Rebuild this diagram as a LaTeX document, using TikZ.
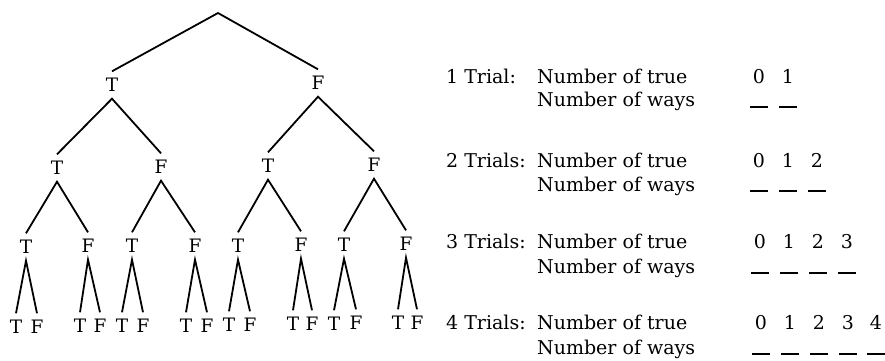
\documentclass[tikz,border=0pt]{standalone}
\usepackage{fontspec}
\setmainfont{DejaVu Serif}
\usetikzlibrary{positioning}

\begin{document}
\begin{tikzpicture}[
  x=1pt, y=-1pt,
  leaf/.style={inner sep=0pt, minimum height=27pt, font=\fontsize{18.5}{18.5}\selectfont},
  branch/.style={line width=1.8pt, line join=miter},
  rowtext/.style={anchor=base west, inner sep=0pt, font=\fontsize{19}{21}\selectfont},
  count/.style={anchor=base, inner sep=0pt, font=\fontsize{19}{21}\selectfont},
  blank/.style={line width=1.6pt}
]
  \useasboundingbox (0,0) rectangle (885,360);

  % Tree of outcomes
  \coordinate (root) at (218,13);
  \node[leaf] (t) at (112,85) {T};
  \node[leaf] (f) at (318,83) {F};

  \node[leaf] (tt) at (57,168)  {T};
  \node[leaf] (tf) at (161,167) {F};
  \node[leaf] (ft) at (268,166) {T};
  \node[leaf] (ff) at (374,165) {F};

  \node[leaf] (ttt) at (26,247)  {T};
  \node[leaf] (ttf) at (88,246)  {F};
  \node[leaf] (tft) at (132,246) {T};
  \node[leaf] (tff) at (195,246) {F};
  \node[leaf] (ftt) at (238,246) {T};
  \node[leaf] (ftf) at (301,245) {F};
  \node[leaf] (fft) at (344,245) {T};
  \node[leaf] (fff) at (406,244) {F};

  \node[leaf] (tttt) at (16,327)  {T}; \node[leaf] (tttf) at (37,327)  {F};
  \node[leaf] (ttft) at (80,326)  {T}; \node[leaf] (ttff) at (100,326) {F};
  \node[leaf] (tftt) at (122,326) {T}; \node[leaf] (tftf) at (143,326) {F};
  \node[leaf] (tfft) at (186,326) {T}; \node[leaf] (tfff) at (207,326) {F};
  \node[leaf] (fttt) at (229,325) {T}; \node[leaf] (fttf) at (250,325) {F};
  \node[leaf] (ftft) at (293,324) {T}; \node[leaf] (ftff) at (312,324) {F};
  \node[leaf] (fftt) at (334,324) {T}; \node[leaf] (fftf) at (356,323) {F};
  \node[leaf] (ffft) at (398,323) {T}; \node[leaf] (ffff) at (417,323) {F};

  % Branches
  \draw[branch] (t.north) -- (root) -- (f.north);
  \draw[branch] (tt.north) -- (t.south) -- (tf.north);
  \draw[branch] (ft.north) -- (f.south) -- (ff.north);
  \draw[branch] (ttt.north) -- (tt.south) -- (ttf.north);
  \draw[branch] (tft.north) -- (tf.south) -- (tff.north);
  \draw[branch] (ftt.north) -- (ft.south) -- (ftf.north);
  \draw[branch] (fft.north) -- (ff.south) -- (fff.north);
  \draw[branch] (tttt.north) -- (ttt.south) -- (tttf.north);
  \draw[branch] (ttft.north) -- (ttf.south) -- (ttff.north);
  \draw[branch] (tftt.north) -- (tft.south) -- (tftf.north);
  \draw[branch] (tfft.north) -- (tff.south) -- (tfff.north);
  \draw[branch] (fttt.north) -- (ftt.south) -- (fttf.north);
  \draw[branch] (ftft.north) -- (ftf.south) -- (ftff.north);
  \draw[branch] (fftt.north) -- (fft.south) -- (fftf.north);
  \draw[branch] (ffft.north) -- (fff.south) -- (ffff.north);

  % Trials 1
  \node[rowtext] (trial1) at (446,83) {1 Trial:};
  \node[rowtext] (true1) at (537,83) {Number of true};
  \node[rowtext] (ways1) at (537,106) {Number of ways};
  \node[count] (c10) at (759,83) {0};
  \node[count] (c11) at (788,83) {1};
  \draw[blank] ([shift={(-9,24)}]c10.base) -- ++(18,0);
  \draw[blank] ([shift={(-9,24)}]c11.base) -- ++(18,0);

  % Trials 2
  \node[rowtext] (trial2) at (446,167) {2 Trials:};
  \node[rowtext] (true2) at (537,167) {Number of true};
  \node[rowtext] (ways2) at (537,191) {Number of ways};
  \node[count] (c20) at (759,167) {0};
  \node[count] (c21) at (788,167) {1};
  \node[count] (c22) at (817,167) {2};
  \draw[blank] ([shift={(-9,24)}]c20.base) -- ++(18,0);
  \draw[blank] ([shift={(-9,24)}]c21.base) -- ++(18,0);
  \draw[blank] ([shift={(-9,24)}]c22.base) -- ++(18,0);

  % Trials 3
  \node[rowtext] (trial3) at (446,248) {3 Trials:};
  \node[rowtext] (true3) at (537,248) {Number of true};
  \node[rowtext] (ways3) at (537,273) {Number of ways};
  \node[count] (c30) at (760,248) {0};
  \node[count] (c31) at (789,248) {1};
  \node[count] (c32) at (818,248) {2};
  \node[count] (c33) at (847,248) {3};
  \draw[blank] ([shift={(-9,25)}]c30.base) -- ++(18,0);
  \draw[blank] ([shift={(-9,25)}]c31.base) -- ++(18,0);
  \draw[blank] ([shift={(-9,25)}]c32.base) -- ++(18,0);
  \draw[blank] ([shift={(-9,25)}]c33.base) -- ++(18,0);

  % Trials 4
  \node[rowtext] (trial4) at (446,329) {4 Trials:};
  \node[rowtext] (true4) at (537,329) {Number of true};
  \node[rowtext] (ways4) at (537,354) {Number of ways};
  \node[count] (c40) at (761,329) {0};
  \node[count] (c41) at (790,329) {1};
  \node[count] (c42) at (819,329) {2};
  \node[count] (c43) at (848,329) {3};
  \node[count] (c44) at (876,329) {4};
  \draw[blank] ([shift={(-9,25)}]c40.base) -- ++(18,0);
  \draw[blank] ([shift={(-9,25)}]c41.base) -- ++(18,0);
  \draw[blank] ([shift={(-9,25)}]c42.base) -- ++(18,0);
  \draw[blank] ([shift={(-9,25)}]c43.base) -- ++(18,0);
  \draw[blank] ([shift={(-9,25)}]c44.base) -- ++(18,0);
\end{tikzpicture}
\end{document}
